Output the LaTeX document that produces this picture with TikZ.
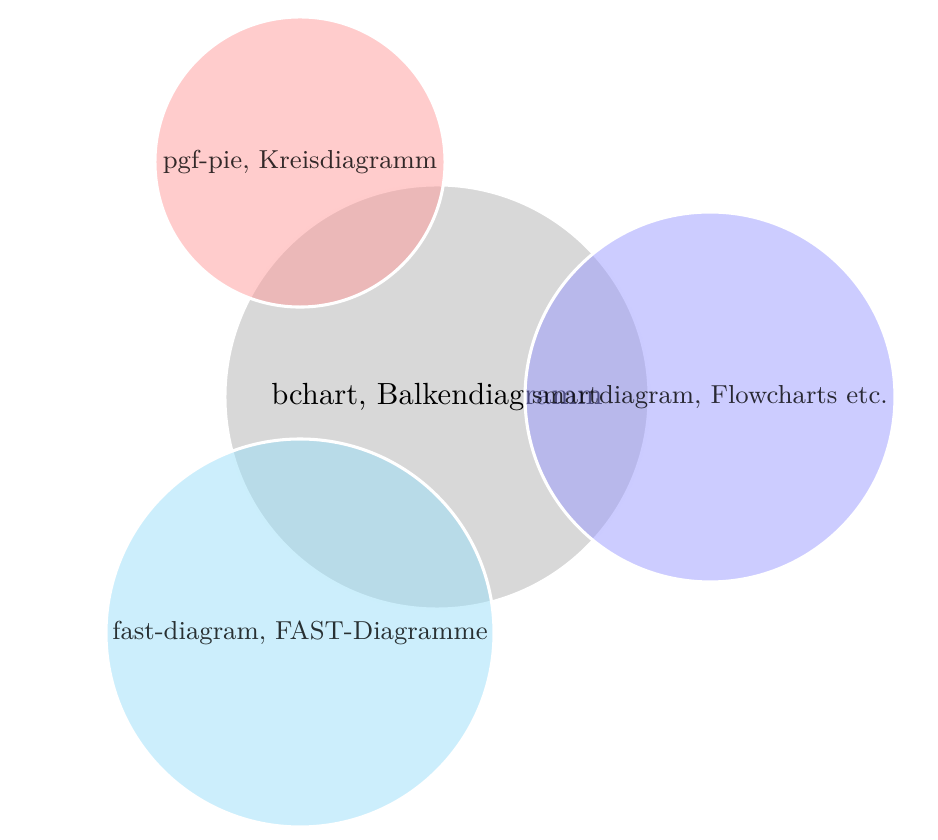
\documentclass[tikz,border=0pt]{standalone}
\usepackage{xcolor}
\usepackage{tikz}
\usetikzlibrary{positioning}

\begin{document}
\begin{tikzpicture}[
    x=0.3268pt, y=-0.3268pt,
    bubble/.style={circle, draw=white, line width=1pt, inner sep=0pt, align=center, fill opacity=0.5},
    topic/.style={bubble, fill=black!30, text opacity=1, font=\normalsize},
    sub/.style={bubble, text opacity=0.8, font=\fontsize{8.5pt}{10pt}\selectfont}
]
\useasboundingbox (0,0) rectangle (938,840);
\node[topic, minimum size=138.6pt] (bchart) at (437,397) {bchart, Balkendiagramm};
\node[sub, fill=red!40, minimum size=94.8pt] (pie) at (300,162) {pgf-pie, Kreisdiagramm};
\node[sub, fill=blue!40, minimum size=120.9pt] (smart) at (710,397) {smartdiagram, Flowcharts etc.};
\node[sub, fill=cyan!40, minimum size=126.8pt] (fast) at (300,633) {fast-diagram, FAST-Diagramme};
\end{tikzpicture}
\end{document}
